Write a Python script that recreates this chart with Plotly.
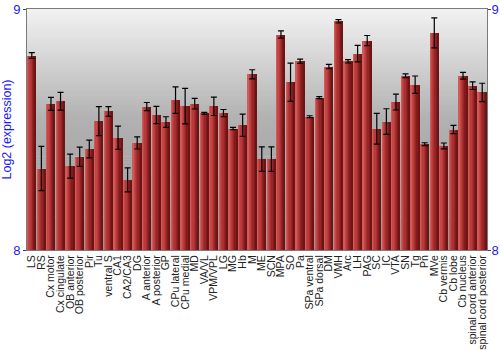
import plotly.graph_objects as go

categories = ["LS", "RS", "Cx motor", "Cx cingulate", "OB anterior", "OB posterior", "Pir", "Tu",
              "ventral S", "CA1", "CA2/CA3", "DG", "A anterior", "A posterior", "GP", "CPu lateral",
              "CPu medial", "MD", "VA/VL", "VPM/VPL", "LG", "MG", "Hb", "M", "ME", "SCN", "MPA", "SO",
              "Pa", "SPa ventral", "SPa dorsal", "DM", "VMH", "Arc", "LH", "PAG", "SC", "IC", "VTA",
              "SN", "Tg", "Pn", "MVe", "Cb vermis", "Cb lobe", "Cb nucleus", "spinal cord anterior",
              "spinal cord posterior"]

values = [8.807, 8.338, 8.606, 8.617, 8.348, 8.387, 8.419, 8.535,
          8.575, 8.466, 8.291, 8.444, 8.595, 8.560, 8.531, 8.622,
          8.597, 8.607, 8.567, 8.596, 8.568, 8.504, 8.518, 8.729, 8.377, 8.377, 8.894, 8.696,
          8.783, 8.553, 8.632, 8.761, 8.949, 8.783, 8.815, 8.869, 8.503, 8.533, 8.614,
          8.723, 8.686, 8.439, 8.901, 8.432, 8.500, 8.723, 8.682,
          8.654]

errors = [0.012, 0.092, 0.027, 0.037, 0.050, 0.040, 0.037, 0.060,
          0.020, 0.048, 0.050, 0.025, 0.017, 0.036, 0.022, 0.055,
          0.074, 0.022, 0.004, 0.038, 0.015, 0.005, 0.046, 0.019, 0.051, 0.051, 0.015, 0.079,
          0.009, 0.004, 0.004, 0.009, 0.007, 0.007, 0.034, 0.021, 0.064, 0.053, 0.033,
          0.008, 0.036, 0.006, 0.062, 0.012, 0.017, 0.014, 0.016,
          0.038]

y_ticks = [8, 9]
y_title = "Log2 (expression)"

FONT = "Liberation Sans, Arial, sans-serif"
BLUE = "#1a1aff"

fig = go.Figure()

# background gradient (plot area) as stacked rectangles in paper coordinates
def lerp(a, b, t):
    return a + (b - a) * t

n_bg = 80
stops = [(0.0, 243), (0.45, 178), (1.0, 150)]
for i in range(n_bg):
    t = (i + 0.5) / n_bg  # 0 at top
    for j in range(len(stops) - 1):
        if stops[j][0] <= t <= stops[j + 1][0]:
            u = (t - stops[j][0]) / (stops[j + 1][0] - stops[j][0])
            g = int(round(lerp(stops[j][1], stops[j + 1][1], u)))
            break
    y1 = 1 - i / n_bg
    y0 = 1 - (i + 1) / n_bg
    fig.add_shape(type="rect", xref="paper", yref="paper", x0=0, x1=1, y0=y0, y1=y1 + 0.002,
                  fillcolor=f"rgb({g},{g},{g})", line=dict(width=0), layer="below")

# bars with horizontal gradient built from strips
bar_w = 0.88
strip_colors = ["#cf5a5a", "#c44646", "#b83a3a", "#a83030", "#962626", "#821c1c", "#6e1414"]
ns = len(strip_colors)
sw = bar_w / ns
for k, c in enumerate(strip_colors):
    fig.add_trace(go.Bar(
        x=categories, y=[v - 8 for v in values], base=8,
        width=sw * 1.02, offset=-bar_w / 2 + k * sw,
        marker=dict(color=c, line=dict(width=0)),
        hoverinfo="skip", showlegend=False))

# error bars
fig.add_trace(go.Scatter(
    x=categories, y=values, mode="markers",
    marker=dict(size=1, color="rgba(0,0,0,0)"),
    error_y=dict(type="data", array=errors, visible=True, color="black", thickness=1.2, width=3),
    showlegend=False, hoverinfo="skip"))

# invisible trace for right axis
fig.add_trace(go.Scatter(x=[categories[0]], y=[8.5], yaxis="y2", mode="markers",
                         marker=dict(size=1, color="rgba(0,0,0,0)"), showlegend=False, hoverinfo="skip"))

fig.update_layout(
    width=500, height=350,
    margin=dict(l=27, r=13, t=9, b=100),
    paper_bgcolor="white", plot_bgcolor="rgba(0,0,0,0)",
    barmode="overlay", bargap=0,
    font=dict(family=FONT),
    xaxis=dict(type="category", tickmode="array", tickvals=categories, ticktext=categories,
               tickangle=-90, tickfont=dict(size=10.5, color="#222", family=FONT),
               showline=True, linecolor="#7a7a7a", linewidth=1, mirror=True, ticks="",
               showgrid=False, zeroline=False, range=[-0.5, len(categories) - 0.5],
               automargin=False),
    yaxis=dict(range=[8, 9], tickvals=y_ticks, ticktext=[str(t) for t in y_ticks],
               tickfont=dict(size=13, color=BLUE, family=FONT), ticks="outside", ticklen=3,
               tickcolor="#444", showline=True, linecolor="#7a7a7a", linewidth=1,
               showgrid=False, zeroline=False, automargin=False,
               title=dict(text=y_title, font=dict(size=12.5, color=BLUE, family=FONT))),
    yaxis2=dict(range=[8, 9], tickvals=y_ticks, ticktext=[str(t) for t in y_ticks], overlaying="y",
                side="right", tickfont=dict(size=13, color=BLUE, family=FONT), ticks="outside",
                ticklen=3, tickcolor="#444", showline=True, linecolor="#7a7a7a", linewidth=1,
                showgrid=False, zeroline=False, automargin=False, ticklabelstandoff=-2),
)

fig.write_html("out.html")
